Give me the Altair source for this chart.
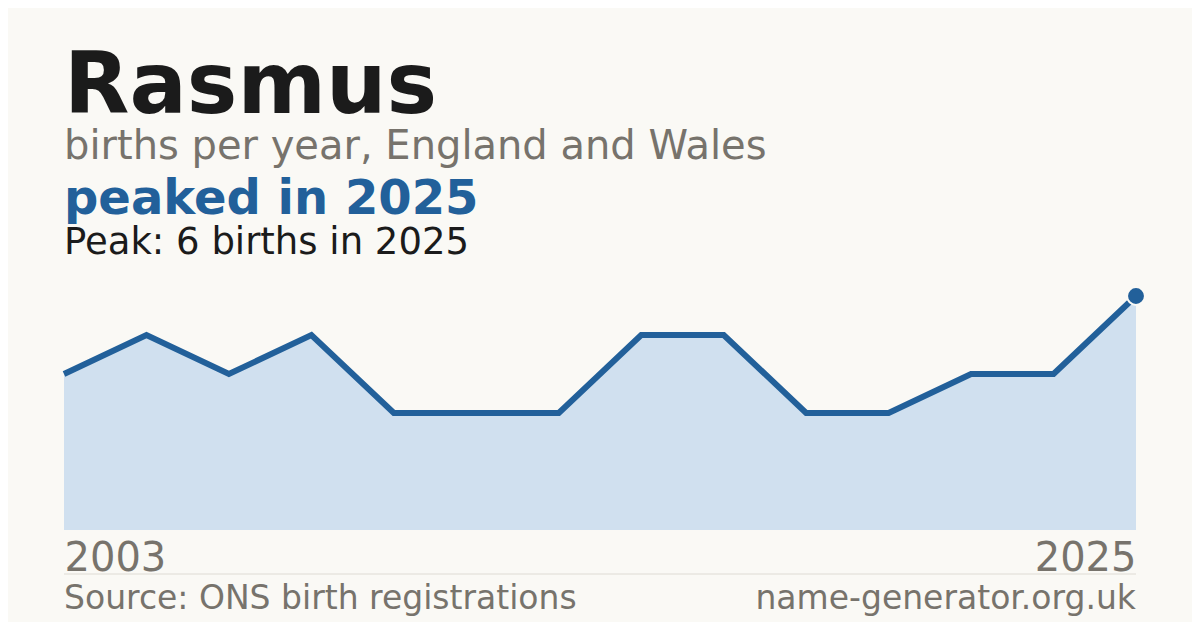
import altair as alt
import pandas as pd

# ---- data ----
step = [0, 1, 2, 3, 4, 5, 6, 7, 8, 9, 10, 11, 12, 13]
births = [4, 5, 4, 5, 3, 3, 3, 5, 5, 3, 3, 4, 4, 6]
first_year = "2003"
last_year = "2025"

name = "Rasmus"
subtitle = "births per year, England and Wales"
headline = "peaked in 2025"
peak_note = "Peak: 6 births in 2025"
source = "Source: ONS birth registrations"
site = "name-generator.org.uk"

BG = "#faf9f5"
BLUE = "#22609a"
FILL = "#d0e0ef"
GRAY = "#77736c"
DARK = "#1b1b1b"
FONT = "DejaVu Sans"

df = pd.DataFrame({"step": step, "births": births})
peak_df = df.iloc[[-1]]

W, H = 1072, 234

x_enc = alt.X(
    "step:Q",
    scale=alt.Scale(domain=[step[0], step[-1]], nice=False, zero=False),
    axis=alt.Axis(
        values=[step[0], step[-1]],
        labelExpr=f"datum.value == {step[0]} ? '{first_year}' : '{last_year}'",
        labelFlush=True,
        labelFont=FONT,
        labelFontSize=40,
        labelColor=GRAY,
        labelBaseline="alphabetic",
        labelPadding=40,
        ticks=False,
        domain=False,
        grid=False,
        title=None,
    ),
)
y_enc = alt.Y(
    "births:Q",
    scale=alt.Scale(domain=[0, 6], nice=False),
    axis=None,
)

base = alt.Chart(df)
area = base.mark_area(color=FILL, opacity=1).encode(x=x_enc, y=y_enc)
line = base.mark_line(color=BLUE, strokeWidth=6, strokeJoin="miter").encode(x=x_enc, y=y_enc)
dot = alt.Chart(peak_df).mark_circle(
    color=BLUE, opacity=1, size=320, stroke=BG, strokeWidth=2
).encode(x=x_enc, y=y_enc)

def txt(text, y, size, color, weight="normal", x=0, align="left"):
    return alt.Chart(pd.DataFrame({"t": [text]})).mark_text(
        font=FONT, fontSize=size, fontWeight=weight, color=color,
        align=align, baseline="alphabetic",
    ).encode(text="t:N", x=alt.value(x), y=alt.value(y))

texts = [
    txt(name, -183, 85, DARK, "bold"),
    txt(subtitle, -137, 40, GRAY),
    txt(headline, -82, 48, BLUE, "bold"),
    txt(peak_note, -42, 37, DARK),
    txt(source, 313, 33, GRAY),
    txt(site, 313, 33, GRAY, x=W, align="right"),
]

rule = alt.Chart(pd.DataFrame({"a": [0]})).mark_rule(color="#dedbd4", strokeWidth=1).encode(
    x=alt.value(0), x2=alt.value(W), y=alt.value(278)
)

chart = alt.layer(area, line, dot, rule, *texts).properties(
    width=W,
    height=H,
    background=BG,
    padding={"left": 56, "top": 288, "right": 56, "bottom": 92},
    autosize=alt.AutoSizeParams(type="none"),
).configure_view(stroke=None)

chart.save("out.html", embed_options={"renderer": "svg", "actions": False})
